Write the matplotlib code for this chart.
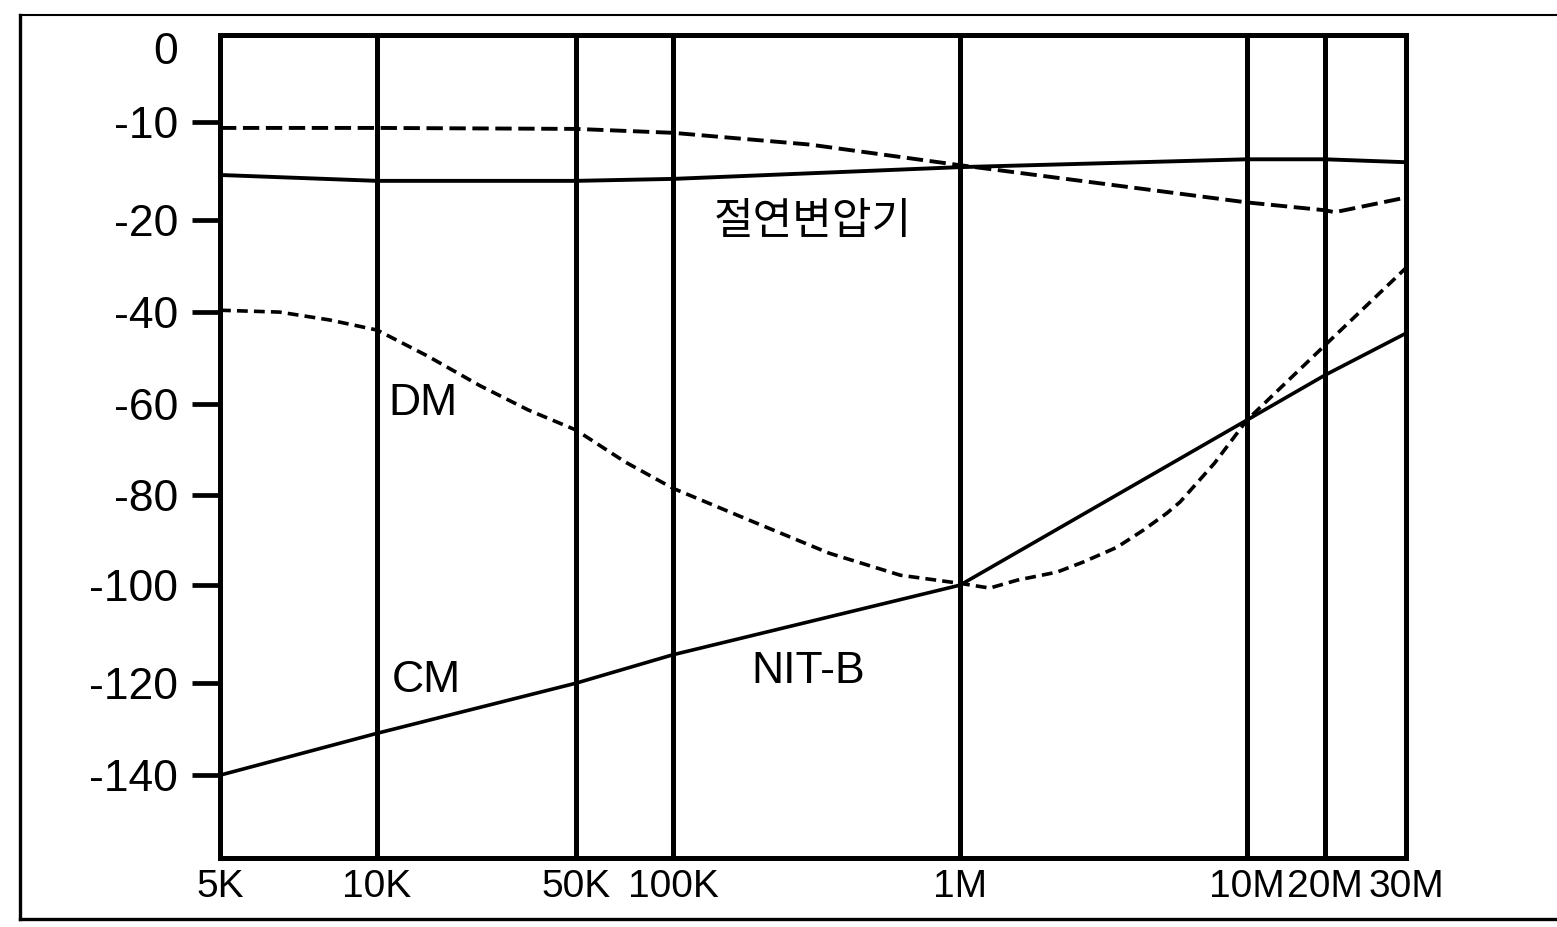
import numpy as np
import matplotlib
matplotlib.use("Agg")
import matplotlib.pyplot as plt
from matplotlib.lines import Line2D

# x ticks (Hz) and their labels
freq_ticks = [5e3, 1e4, 5e4, 1e5, 1e6, 1e7, 2e7, 3e7]
freq_labels = ["5K", "10K", "50K", "100K", "1M", "10M", "20M", "30M"]

# y ticks (dB) and their labels
db_ticks = [0, -10, -20, -40, -60, -80, -100, -120, -140]
db_labels = ["0", "-10", "-20", "-40", "-60", "-80", "-100", "-120", "-140"]

# 절연변압기 - dashed (upper)
trafo_dm_freq = [5e3, 1e4, 5e4, 1e5, 3e5, 1e6, 1e7, 2e7, 2.1e7, 3e7]
trafo_dm = [-10.6, -10.6, -10.7, -11.1, -12.3, -14.4, -18.2, -19.0, -19.2, -17.7]

# 절연변압기 - solid (upper)
trafo_cm_freq = [5e3, 1e4, 5e4, 1e5, 1e6, 1e7, 2e7, 3e7]
trafo_cm = [-15.4, -16.0, -16.0, -15.8, -14.6, -13.8, -13.8, -14.1]

# NIT-B - DM (dashed)
nit_dm_freq = [5e3, 6.5e3, 8.1e3, 1e4, 1.5e4, 2.3e4, 3.4e4, 5e4, 7.1e4, 1e5,
               1.85e5, 3.5e5, 6.2e5, 1e6, 1.27e6, 1.58e6, 2.18e6, 2.68e6,
               3.52e6, 4.35e6, 5.26e6, 5.85e6, 7.7e6, 1e7, 2e7, 3e7]
nit_dm = [-39.6, -40.0, -41.7, -43.9, -49.5, -56.0, -61.3, -65.7, -72.7, -78.5,
          -85.6, -92.9, -97.8, -99.6, -100.6, -98.9, -97.1, -94.9,
          -91.6, -87.8, -84.0, -81.5, -73.0, -63.5, -47.2, -30.4]

# NIT-B - CM (solid)
nit_cm_freq = [5e3, 1e4, 5e4, 1e5, 1e6, 1e7, 2e7, 3e7]
nit_cm = [-140, -130.9, -120, -114.2, -100, -63.5, -53.7, -44.6]

# hand drawn axes: where each tick sits along the axis (layout only)
x_pos = [0, 157, 356, 453, 740, 1027, 1105, 1186]
y_vals = [5, 0, -10, -20, -40, -60, -80, -100, -120, -140, -170]
y_pos = [37, 0, -74, -172, -264, -356, -447, -537, -635, -727, -865]


def fwd_x(f):
    return np.interp(np.log10(np.clip(f, 1, None)), np.log10(freq_ticks), x_pos)


def inv_x(p):
    return 10 ** np.interp(p, x_pos, np.log10(freq_ticks))


def fwd_y(v):
    return np.interp(v, y_vals[::-1], y_pos[::-1])


def inv_y(p):
    return np.interp(p, y_pos[::-1], y_vals[::-1])


def main():
    plt.rcParams['font.family'] = ['Liberation Sans', 'DejaVu Sans']

    fig = plt.figure(figsize=(15.57, 9.27), dpi=100)
    ax = fig.add_axes([220 / 1557, 1 - 858 / 927, 1186 / 1557, 823 / 927])
    ax.set_xscale('function', functions=(fwd_x, inv_x))
    ax.set_yscale('function', functions=(fwd_y, inv_y))
    ax.set_xlim(5e3, 3e7)
    ax.set_ylim(-158, 1.76)

    ax.plot(trafo_dm_freq, trafo_dm, color='black', lw=2.8,
            dashes=(4.2, 1.7))
    ax.plot(trafo_cm_freq, trafo_cm, color='black', lw=2.8)
    ax.plot(nit_dm_freq, nit_dm, color='black', lw=2.6, dashes=(3.0, 1.7))
    ax.plot(nit_cm_freq, nit_cm, color='black', lw=2.6)

    # labels inside the plot
    ax.text(3.07e5, -20.4, "절연변압기", fontsize=31, ha='center', va='center',
            family=['Noto Sans CJK KR', 'DejaVu Sans'])
    ax.text(1.45e4, -59.8, "DM", fontsize=32, ha='center', va='center')
    ax.text(1.49e4, -119.4, "CM", fontsize=32, ha='center', va='center')
    ax.text(2.95e5, -117.6, "NIT-B", fontsize=32, ha='center', va='center')

    ax.set_xticks(freq_ticks)
    ax.set_xticklabels(freq_labels, fontsize=28)
    ax.xaxis.set_minor_locator(matplotlib.ticker.NullLocator())
    ax.tick_params(axis='x', length=0, pad=8)
    ax.grid(True, axis='x', color='black', lw=3.6)

    ax.set_yticks(db_ticks)
    ax.set_yticklabels(db_labels, fontsize=32)
    ax.yaxis.set_minor_locator(matplotlib.ticker.NullLocator())
    ax.tick_params(axis='y', length=20, width=3.4, pad=10, direction='out')
    ax.yaxis.get_major_ticks()[0].tick1line.set_visible(False)

    for s in ax.spines.values():
        s.set_linewidth(3.6)

    # outer frame of the scanned figure
    fig.add_artist(Line2D([20 / 1557, 20 / 1557], [1 - 15 / 927, 1 - 919 / 927],
                          color='black', lw=2.4))
    fig.add_artist(Line2D([20 / 1557, 1], [1 - 919 / 927, 1 - 919 / 927],
                          color='black', lw=2.4))
    fig.add_artist(Line2D([20 / 1557, 1], [1 - 15 / 927, 1 - 15 / 927],
                          color='black', lw=1.5))

    fig.savefig("out.png", dpi=100)


if __name__ == "__main__":
    main()
